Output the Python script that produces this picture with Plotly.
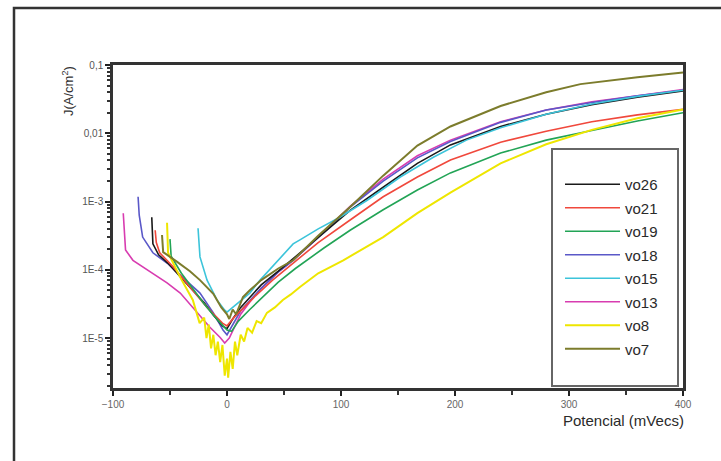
import plotly.graph_objects as go

# ---------------- data (potential in mV, log10 of current density) ----------------
names = ["vo26", "vo21", "vo19", "vo18", "vo15", "vo13", "vo8", "vo7"]
colors = ["#1a1a1a", "#f0483c", "#22a456", "#5a58c8", "#3cc4da", "#d83cb0", "#eee600", "#7c7c2c"]

E_vo26 = [-66, -65.5, -65, -60, -52, -40, -30, -20, -12, -4, 0, 5, 12, 20, 30, 45, 55, 70, 90, 108, 137, 167, 196, 240, 280, 320, 360, 400]
L_vo26 = [-3.23, -3.50, -3.62, -3.78, -3.90, -4.12, -4.30, -4.48, -4.66, -4.82, -4.86, -4.72, -4.55, -4.40, -4.22, -4.02, -3.88, -3.66, -3.39, -3.13, -2.79, -2.44, -2.17, -1.90, -1.72, -1.58, -1.47, -1.38]

E_vo21 = [-63, -62, -59, -47, -32.5, -17.5, -4, 0, 6, 15, 25, 40, 61, 80, 108, 137, 167, 196, 240, 280, 320, 360, 400]
L_vo21 = [-3.42, -3.60, -3.75, -3.96, -4.25, -4.55, -4.78, -4.82, -4.70, -4.55, -4.38, -4.15, -3.86, -3.60, -3.27, -2.93, -2.64, -2.39, -2.13, -1.97, -1.83, -1.73, -1.65]

E_vo19 = [-50, -49, -40, -30, -20, -10, 0, 4, 10, 20, 30, 45, 60, 70, 85, 108, 137, 167, 196, 240, 280, 320, 360, 400]
L_vo19 = [-3.55, -3.80, -4.05, -4.28, -4.50, -4.70, -4.88, -4.90, -4.75, -4.58, -4.42, -4.18, -3.98, -3.86, -3.68, -3.42, -3.12, -2.83, -2.58, -2.29, -2.10, -1.96, -1.82, -1.70]

E_vo18 = [-78, -77, -74, -65, -52.6, -38.6, -23.7, -12, -3.5, 0, 5, 12, 20, 30, 45, 58, 75, 90, 108, 137, 167, 196, 240, 280, 320, 360, 400]
L_vo18 = [-2.93, -3.20, -3.52, -3.75, -3.90, -4.11, -4.34, -4.63, -4.88, -4.95, -4.80, -4.60, -4.45, -4.27, -4.03, -3.86, -3.60, -3.38, -3.08, -2.70, -2.36, -2.12, -1.84, -1.66, -1.55, -1.45, -1.37]

E_vo15 = [-25.4, -24.5, -23.7, -17.5, -8.8, -2, 0, 5, 12, 20, 29, 44, 58, 64, 80, 99, 123, 152, 181, 210, 240, 280, 320, 360, 400]
L_vo15 = [-3.39, -3.65, -3.81, -4.15, -4.44, -4.59, -4.62, -4.55, -4.45, -4.34, -4.15, -3.88, -3.62, -3.56, -3.40, -3.23, -2.98, -2.64, -2.35, -2.10, -1.92, -1.72, -1.57, -1.46, -1.37]

E_vo13 = [-91, -90, -89, -82.5, -67.5, -52.6, -41, -32.5, -23.7, -15, -6, -2, 2, 6, 12, 20, 30, 45, 58, 75, 90, 108, 137, 167, 196, 240, 280, 320, 360, 400]
L_vo13 = [-3.17, -3.50, -3.71, -3.86, -4.03, -4.19, -4.34, -4.50, -4.67, -4.84, -4.99, -5.07, -5.00, -4.85, -4.65, -4.47, -4.27, -4.03, -3.86, -3.60, -3.36, -3.07, -2.67, -2.33, -2.10, -1.83, -1.66, -1.54, -1.45, -1.36]

E_vo8 = [-52.6, -52, -51.7, -41, -30, -24, -20, -18, -16, -14, -12, -10, -8, -6, -4, -2, 0, 1, 3, 5, 7, 9, 12, 15, 18, 22, 26, 30, 35, 42, 49, 56, 64, 80, 102, 137, 167, 196, 240, 280, 320, 360, 400]
L_vo8 = [-3.31, -3.55, -3.75, -4.11, -4.44, -4.78, -4.70, -5.00, -4.80, -5.15, -4.95, -5.25, -5.05, -5.35, -5.10, -5.55, -5.30, -5.58, -5.20, -5.45, -5.05, -5.25, -4.95, -5.05, -4.85, -4.92, -4.75, -4.78, -4.63, -4.55, -4.44, -4.36, -4.25, -4.05, -3.86, -3.52, -3.17, -2.87, -2.44, -2.16, -1.95, -1.78, -1.65]

E_vo7 = [-57, -56, -44, -32.5, -23.7, -12, -5, 0, 2, 5, 8, 14, 20, 30, 45, 58, 80, 108, 137, 167, 196, 240, 280, 310, 360, 400]
L_vo7 = [-3.49, -3.74, -3.88, -4.02, -4.15, -4.35, -4.55, -4.65, -4.72, -4.58, -4.65, -4.40, -4.30, -4.15, -3.98, -3.86, -3.50, -3.08, -2.62, -2.18, -1.90, -1.60, -1.40, -1.28, -1.18, -1.11]

series_E = [E_vo26, E_vo21, E_vo19, E_vo18, E_vo15, E_vo13, E_vo8, E_vo7]
series_L = [L_vo26, L_vo21, L_vo19, L_vo18, L_vo15, L_vo13, L_vo8, L_vo7]

y_tick_vals = [0.1, 0.01, 1e-3, 1e-4, 1e-5]
y_tick_text = ["0,1", "0,01", "1E-3", "1E-4", "1E-5"]
x_tick_vals = [-100, 0, 100, 200, 300, 400]

# ---------------- figure ----------------
W, H = 721, 461
L, R, T, B = 113, 683, 65, 388

def px(xpix):
    return (xpix - L) / (R - L)

def py(ypix):
    return (B - ypix) / (B - T)

fig = go.Figure()
draw_order = [5, 3, 0, 1, 2, 4, 6, 7]
for i in draw_order:
    fig.add_trace(go.Scatter(
        x=series_E[i], y=[10 ** v for v in series_L[i]],
        mode="lines", name=names[i],
        line=dict(color=colors[i], width=2 if names[i] in ("vo7", "vo8") else 1.6),
        legendrank=i + 1, legendgroup=names[i],
    ))

minor_vals = [m * 10 ** e for e in range(-6, 0) for m in range(2, 10)]

fig.update_layout(
    width=W, height=H,
    margin=dict(l=L, r=W - R, t=T, b=H - B, pad=0),
    paper_bgcolor="white", plot_bgcolor="white",
    font=dict(family="Liberation Sans, Arial, sans-serif", color="#444"),
    showlegend=True,
    legend=dict(x=px(560), y=py(168), xanchor="left", yanchor="top",
                bgcolor="rgba(0,0,0,0)", borderwidth=0,
                font=dict(size=15, color="#2a2a2a"), tracegroupgap=1,
                itemwidth=55),
    xaxis=dict(range=[-100, 400], tickvals=x_tick_vals, ticks="outside", ticklen=5,
               tickwidth=2, tickcolor="#222", showgrid=False, zeroline=False,
               showline=True, linecolor="#333", linewidth=2.5, mirror=True,
               tickfont=dict(size=10, color="#666"),
               minor=dict(tickvals=[-50, 50, 150, 250, 350], ticks="outside",
                          ticklen=4, tickwidth=2, tickcolor="#333")),
    yaxis=dict(type="log", range=[-5.73, -1], tickvals=y_tick_vals, ticktext=y_tick_text,
               ticks="outside", ticklen=5, tickwidth=2, tickcolor="#222",
               showgrid=False, zeroline=False,
               showline=True, linecolor="#333", linewidth=2.5, mirror=True,
               tickfont=dict(size=10, color="#555"),
               minor=dict(tickvals=minor_vals, ticks="outside", ticklen=3,
                          tickwidth=1.5, tickcolor="#333")),
)

# outer frame (partially visible)
fig.add_shape(type="rect", xref="paper", yref="paper",
              x0=px(14), x1=px(740), y0=py(480), y1=py(8),
              line=dict(color="#333", width=2.5), fillcolor="rgba(0,0,0,0)", layer="above")
# legend box
fig.add_shape(type="rect", xref="paper", yref="paper",
              x0=px(552), x1=px(678), y0=py(386), y1=py(149),
              line=dict(color="#666", width=2), fillcolor="white", layer="above")

fig.add_annotation(text="Potencial (mVecs)", xref="paper", yref="paper",
                   x=px(686), y=py(420), xanchor="right", yanchor="middle",
                   showarrow=False, font=dict(size=15, color="#2a2a2a"))
fig.add_annotation(text="J(A/cm<sup>2</sup>)", xref="paper", yref="paper",
                   x=px(68), y=py(64), xanchor="center", yanchor="top", textangle=-90,
                   showarrow=False, font=dict(size=13, color="#333"))

fig.write_html("out.html",
               config={"displayModeBar": False},
               post_script="document.body.style.margin='0';document.body.style.overflow='hidden';")
